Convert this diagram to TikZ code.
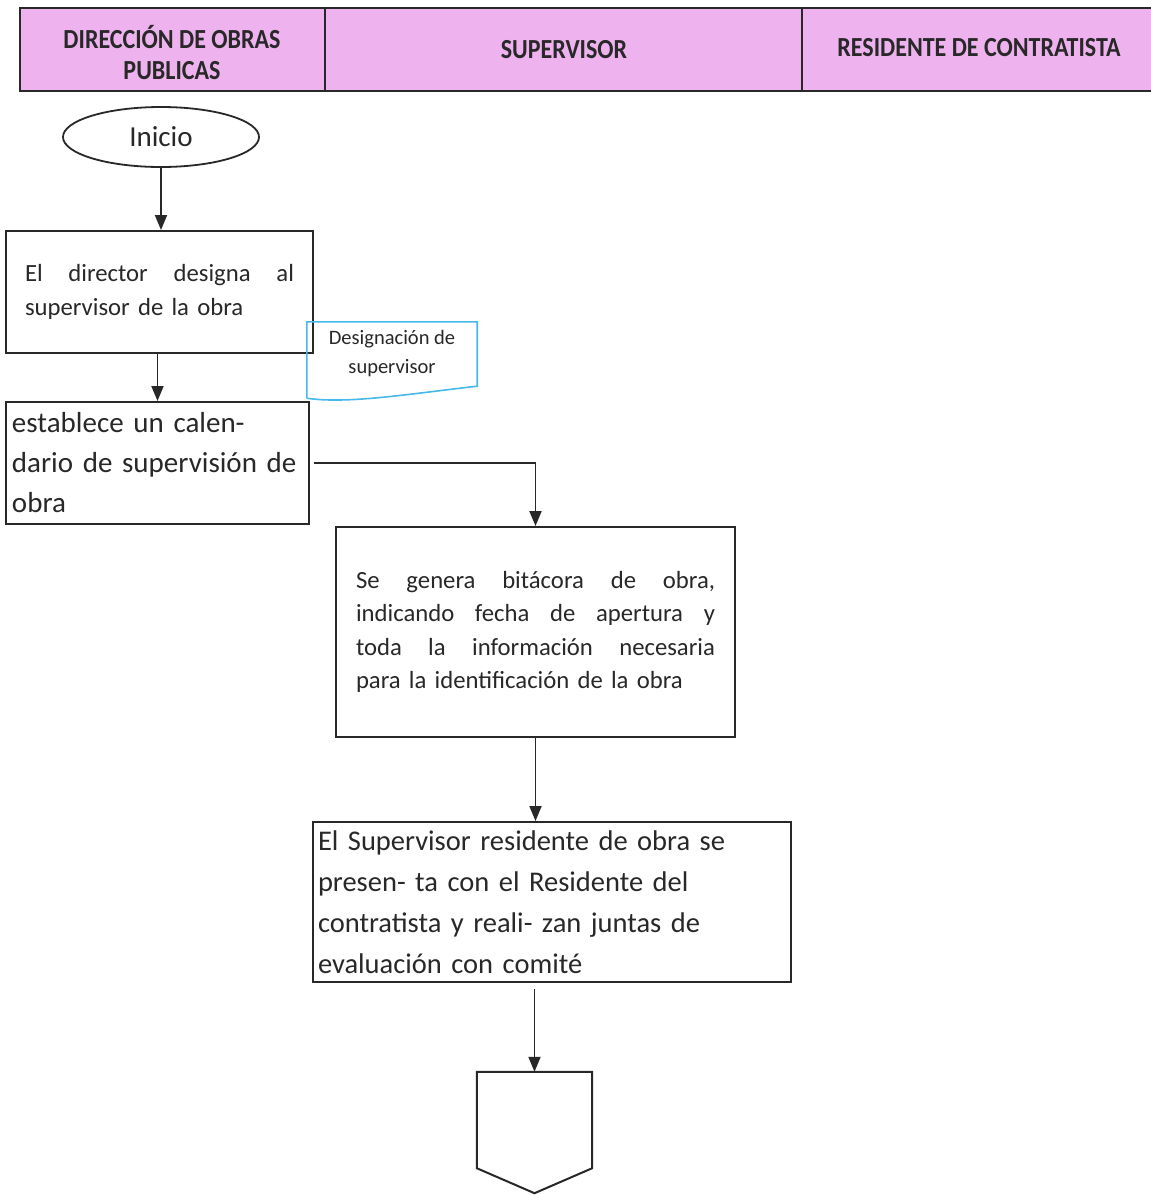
\documentclass[tikz,border=0pt]{standalone}
\usepackage{fontspec}
\setmainfont{Carlito}
\usetikzlibrary{arrows.meta,calc,shapes.geometric}
\definecolor{hdrpink}{RGB}{238,178,238}
\definecolor{docblue}{RGB}{70,185,235}
\definecolor{ink}{RGB}{40,40,40}
\newcommand{\jline}[2]{\leavevmode\hbox to #1{#2}}
\begin{document}
\begin{tikzpicture}[x=1pt,y=-1pt,
  arr/.style={draw=ink, line width=1.9pt, -{Triangle[length=15pt,width=12pt]}},
  procbox/.style={draw=ink, line width=2pt, rectangle, inner ysep=0pt, text=ink},
  hdrcell/.style={draw=ink, fill=hdrpink, line width=2pt, minimum height=83pt, inner sep=0pt},
  hdrtext/.style={font=\bfseries\fontsize{24}{31}\selectfont, text=ink, align=center, inner sep=0pt},
  shapeline/.style={draw=ink, line width=2pt},
]
\useasboundingbox (0,0) rectangle (1151,1195);
\fill[white] (0,0) rectangle (1151,1195);

% header
\node[hdrcell, minimum width=305pt] (c1) at (172.5,49.5) {};
\node[hdrcell, minimum width=477pt] (c2) at (563.5,49.5) {};
\node[hdrcell, minimum width=370pt] (c3) at (987,49.5) {};
\node[hdrtext] (h1) at (172,53) {\scalebox{1}[1.15]{DIRECCIÓN DE OBRAS}\\\scalebox{1}[1.15]{PUBLICAS}};
\node[hdrtext] (h2) at (564,50) {\scalebox{1}[1.15]{SUPERVISOR}};
\node[hdrtext] (h3) at (979,48) {\scalebox{1}[1.15]{RESIDENTE DE CONTRATISTA}};

% start
\node[ellipse, draw=ink, line width=1.8pt, minimum width=196pt, minimum height=60pt,
      text=ink, font=\fontsize{29}{35}\selectfont] (ini) at (161,137) {Inicio};

% boxes
\node[procbox, text width=269pt, inner xsep=19pt, minimum height=122pt, align=left,
      font=\fontsize{24.7}{33.5}\selectfont] (b1) at (159.5,292)
  {\jline{269pt}{El\hfill director\hfill designa\hfill al}\\supervisor de la obra};

\node[procbox, text width=291pt, inner xsep=6pt, minimum height=122pt, align=left,
      font=\fontsize{29}{40}\selectfont] (b2) at (157.5,463)
  {establece un calen-\\dario de supervisión de\\obra};

\node[procbox, text width=359pt, inner xsep=20pt, minimum height=210pt, align=left,
      font=\fontsize{24.7}{33.5}\selectfont] (b3) at (535.5,632)
  {\jline{359pt}{Se\hfill genera\hfill bitácora\hfill de\hfill obra,}\\\jline{359pt}{indicando\hfill fecha\hfill de\hfill apertura\hfill y}\\\jline{359pt}{toda\hfill la\hfill información\hfill necesaria}\\para la identificación de la obra};

\node[procbox, text width=468pt, inner xsep=5pt, minimum height=160pt, align=left,
      font=\fontsize{28.5}{41}\selectfont] (b4) at (552,902)
  {El Supervisor residente de obra se\\presen- ta con el Residente del\\contratista y reali- zan juntas de\\evaluación con comité};

% document shape
\node[minimum width=170pt, minimum height=64pt, inner sep=0pt, align=center, text=ink,
      font=\fontsize{20.5}{29}\selectfont] (doc) at (392,354) {Designación de\\supervisor};
\draw[draw=docblue, line width=1.6pt]
  ($(doc.south west)+(0,12)$) -- (doc.north west) -- (doc.north east) -- (doc.south east)
  .. controls ($(doc.south east)+(-70,8)$) and ($(doc.south west)+(40,18)$) .. ($(doc.south west)+(0,12)$);

% off-page connector
\node[minimum width=115pt, minimum height=96pt, inner sep=0pt] (off) at (534.5,1120) {};
\draw[shapeline] (off.north west) -- (off.north east) -- (off.south east)
  -- ($(off.south)+(0,25)$) -- (off.south west) -- cycle;

% connectors
\draw[arr] (ini.south) -- (ini.south |- b1.north);
\draw[arr] (b1.south -| b2.north) -- (b2.north);
\draw[arr, shorten <=4pt] (b2.east) -| (b3.north);
\draw[arr] (b3.south) -- (b3.south |- b4.north);
\draw[arr, shorten <=6pt] (b4.south -| off.north) -- (off.north);
\end{tikzpicture}
\end{document}
